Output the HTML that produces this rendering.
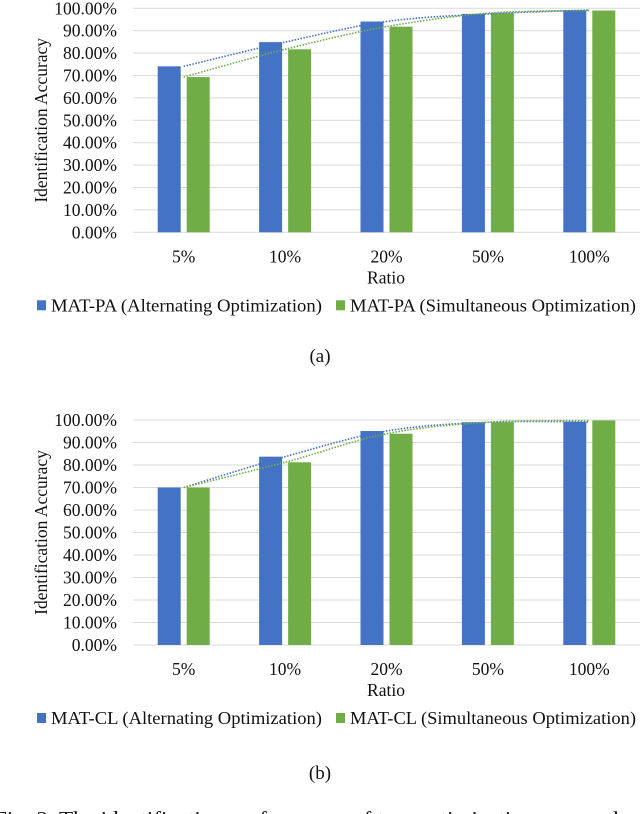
<!DOCTYPE html>
<html><head><meta charset="utf-8"><style>
html,body{margin:0;padding:0;background:#fff;width:640px;height:814px;overflow:hidden}
svg text{font-family:"Liberation Serif",serif;fill:#111}
</style></head><body>
<svg id="fig" width="640" height="814" xmlns="http://www.w3.org/2000/svg"></svg>
<script>
const categories = ["5%","10%","20%","50%","100%"];
const yTicks = [0,10,20,30,40,50,60,70,80,90,100];
const paAlt = [74.1, 84.9, 94.1, 97.5, 99.2];
const paSim = [69.3, 81.7, 91.8, 97.8, 99.0];
const clAlt = [70.0, 83.7, 95.1, 99.0, 99.2];
const clSim = [70.0, 81.2, 93.9, 99.0, 99.8];
const legendPA = ["MAT-PA (Alternating Optimization)","MAT-PA (Simultaneous Optimization)"];
const legendCL = ["MAT-CL (Alternating Optimization)","MAT-CL (Simultaneous Optimization)"];

const NS="http://www.w3.org/2000/svg";
const svg=document.getElementById('fig');
function mk(tag,attrs,parent,text){const e=document.createElementNS(NS,tag);for(const k in attrs)e.setAttribute(k,attrs[k]);if(text!==undefined)e.textContent=text;(parent||svg).appendChild(e);return e;}

function chart(prefix,y0,y100,alt,sim,legend,capY,capText){
  const g=mk('g',{});
  
  
  const x0=133,x1=640,gw=(x1-x0)/categories.length;
  const yS=v=>y0-(y0-y100)*v/100;
  const cx=i=>x0+gw*(i+0.5);
  yTicks.forEach(t=>{
    const l=mk('line',{x1:x0,x2:x1,y1:yS(t),y2:yS(t),stroke:'#d9d9d9','stroke-width':1},g);
    
    
    const tx=mk('text',{x:117,y:yS(t)+6,'text-anchor':'end','font-size':'17.5'},g,t.toFixed(2)+'%');
    
    
  });
  const series=[[alt,'#4472c4',-1],[sim,'#70ad47',1]];
  series.forEach(([vals,col,side],si)=>{
    vals.forEach((v,i)=>{
      const bx=side<0?cx(i)-26:cx(i)+3;
      const r=mk('rect',{x:bx,y:yS(v),width:23,height:y0-yS(v),fill:col},g);
      
      
    });
  });
  series.forEach(([vals,col],si)=>{
    const pts=vals.map((v,i)=>[cx(i),yS(v)]);
    let d='M'+pts[0][0]+','+pts[0][1];
    for(let i=0;i<pts.length-1;i++){
      const p0=pts[Math.max(0,i-1)],p1=pts[i],p2=pts[i+1],p3=pts[Math.min(pts.length-1,i+2)];
      d+=' C'+(p1[0]+(p2[0]-p0[0])/6)+','+(p1[1]+(p2[1]-p0[1])/6)+' '+(p2[0]-(p3[0]-p1[0])/6)+','+(p2[1]-(p3[1]-p1[1])/6)+' '+p2[0]+','+p2[1];
    }
    const p=mk('path',{d:d,fill:'none',stroke:col,'stroke-width':1.6,'stroke-dasharray':'1.5,1.5'},g);
    
    
  });
  categories.forEach((c,i)=>{
    const t=mk('text',{x:cx(i),y:y0+30,'text-anchor':'middle','font-size':'17.5'},g,c);
    
    
  });
  const xt=mk('text',{x:386,y:y0+51,'text-anchor':'middle','font-size':'17.5'},g,'Ratio');
  
  
  const ym=(y0+y100)/2;
  const yt=mk('text',{x:0,y:0,'text-anchor':'middle','font-size':'17.5',transform:'translate(47,'+ym+') rotate(-90)'},g,'Identification Accuracy');
  
  
  const ly=y0+79;
  [[37,51,'#4472c4',legend[0]],[336,350,'#70ad47',legend[1]]].forEach(([sx,tx,col,lab],k)=>{
    const s=mk('rect',{x:sx,y:ly-11,width:9,height:10,fill:col},g);
    
    
    const t=mk('text',{x:tx,y:ly,'font-size':'17.5',textLength:k?286:271,lengthAdjust:'spacingAndGlyphs'},g,lab);
    
    
  });
  const cap=mk('text',{x:320,y:capY,'text-anchor':'middle','font-size':'19'},g,capText);
  
  
}
chart('pa',232.3,8.3,paAlt,paSim,legendPA,362,'(a)');
chart('cl',645,420,clAlt,clSim,legendCL,779,'(b)');
const fc=mk('text',{x:-6,y:826,'font-size':'21',textLength:650,lengthAdjust:'spacingAndGlyphs'},svg,'Fig. 3.   The identification performance of two optimization approaches');


</script>
</body></html>
